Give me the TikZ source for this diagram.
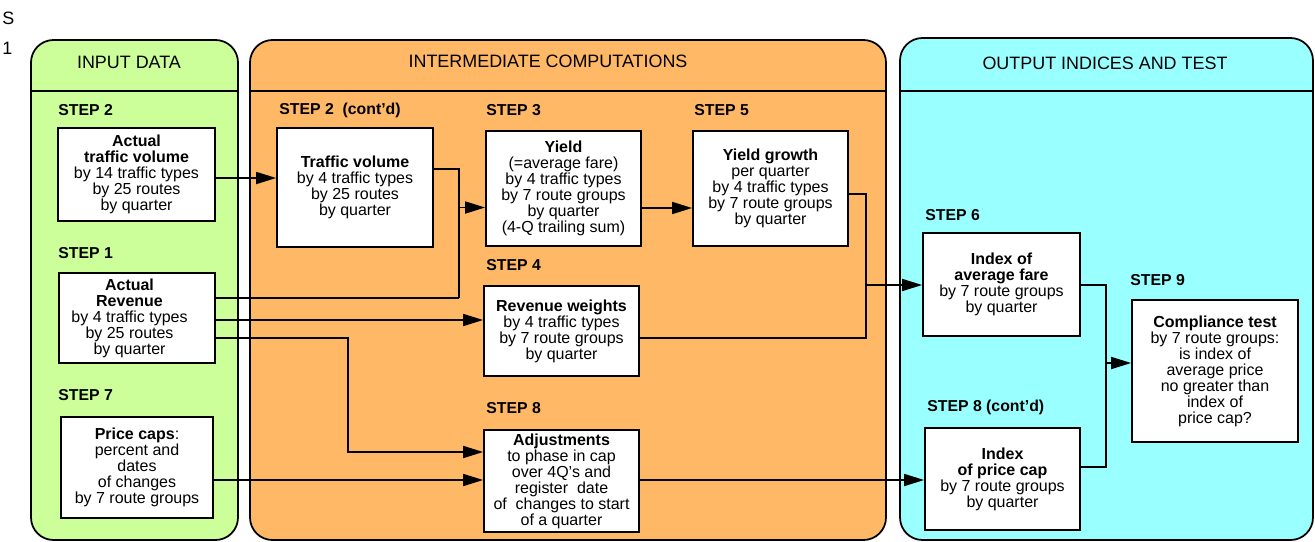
\documentclass[tikz,border=0pt]{standalone}
\usepackage{fontspec}
\setmainfont{Liberation Sans}
\usetikzlibrary{arrows.meta,calc}
\definecolor{inputgreen}{RGB}{204,255,153}
\definecolor{midorange}{RGB}{255,184,102}
\definecolor{outcyan}{RGB}{153,255,255}
\newcommand{\padr}{\rule{0.3cm}{0pt}}

\begin{document}
\begin{tikzpicture}[x=0.02cm, y=-0.02cm,
    panel/.style={draw, line width=1pt, rounded corners=0.45cm},
    head/.style={font=\fontsize{10.2}{12}\selectfont, inner sep=0pt},
    steplabel/.style={anchor=west, inner sep=0pt, font=\fontsize{9}{10}\selectfont\bfseries},
    box/.style={draw, fill=white, line width=1pt, align=center, inner sep=0pt,
        font=\fontsize{9.1}{9.1}\selectfont},
    wire/.style={line width=1pt},
    flow/.style={line width=1pt, -{Triangle[length=0.4cm, width=0.24cm]}}]
    \useasboundingbox (0,0) rectangle (1315,541);

    % panels
    \draw[panel, fill=inputgreen] (31,40) rectangle (238,540);
    \draw[panel, fill=midorange] (250,40) rectangle (886,540);
    \draw[panel, fill=outcyan] (900,38) rectangle (1313,540);
    \draw[line width=1pt] (31,91) -- (238,91);
    \draw[line width=1pt] (250,91) -- (886,91);
    \draw[line width=1pt] (900,91) -- (1313,91);
    \node[head] (hin) at (129,62) {INPUT DATA};
    \node[head] (hmid) at (548,61) {INTERMEDIATE COMPUTATIONS};
    \node[head] (hout) at (1105,63) {OUTPUT INDICES AND TEST};
    \node[head, anchor=west] (cut1) at (2,18) {S};
    \node[head, anchor=west] (cut2) at (2,48) {1};

    % step labels
    \node[steplabel] (s2) at (58,110) {STEP 2};
    \node[steplabel] (s1) at (58,253) {STEP 1};
    \node[steplabel] (s7) at (58,395) {STEP 7};
    \node[steplabel] (s2c) at (279,110) {STEP 2\ \ (cont’d)};
    \node[steplabel] (s3) at (486,110) {STEP 3};
    \node[steplabel] (s5) at (694,110) {STEP 5};
    \node[steplabel] (s4) at (486,265) {STEP 4};
    \node[steplabel] (s8) at (486,408) {STEP 8};
    \node[steplabel] (s6) at (925,215) {STEP 6};
    \node[steplabel] (s9) at (1130,280) {STEP 9};
    \node[steplabel] (s8c) at (927,407) {STEP 8 (cont’d)};

    % boxes
    \node[box, minimum width=3.14cm, minimum height=1.86cm] (atv) at (136.5,174.5)
        {\textbf{Actual}\\\textbf{traffic volume}\\by 14 traffic types\\by 25 routes\\by quarter};
    \node[box, minimum width=3.12cm, minimum height=1.8cm] (rev) at (137,318)
        {\textbf{Actual}\padr\\\textbf{Revenue}\padr\\by 4 traffic types\padr\\by 25 routes\padr\\by quarter\padr};
    \node[box, minimum width=3.04cm, minimum height=2.02cm] (cap) at (137,467.5)
        {\textbf{Price caps}:\\percent and\\dates\\of changes\\by 7 route groups};
    \node[box, minimum width=3.12cm, minimum height=2.38cm] (tv) at (355,187.5)
        {\textbf{Traffic volume}\\by 4 traffic types\\by 25 routes\\by quarter};
    \node[box, minimum width=3.1cm, minimum height=2.3cm] (yld) at (563.5,188.5)
        {\textbf{Yield}\\(=average fare)\\by 4 traffic types\\by 7 route groups\\by quarter\\(4-Q trailing sum)};
    \node[box, minimum width=3.1cm, minimum height=2.3cm] (ygr) at (770.5,188.5)
        {\textbf{Yield growth}\\per quarter\\by 4 traffic types\\by 7 route groups\\by quarter};
    \node[box, minimum width=3.1cm, minimum height=1.8cm] (rw) at (561.5,331)
        {\textbf{Revenue weights}\\by 4 traffic types\\by 7 route groups\\by quarter};
    \node[box, minimum width=3.1cm, minimum height=2.04cm] (adj) at (561.5,481)
        {\textbf{Adjustments}\\to phase in cap\\over 4Q’s and\\register\ \ date\\of\ \ changes to start\\of a quarter};
    \node[box, minimum width=3.14cm, minimum height=2.06cm] (iaf) at (1001.5,284.5)
        {\textbf{Index of}\\\textbf{average fare}\\by 7 route groups\\by quarter};
    \node[box, minimum width=3.32cm, minimum height=2.84cm] (cmp) at (1215,371)
        {\textbf{Compliance test}\\by 7 route groups:\\is index of\\average price\\no greater than\\index of\\price cap?};
    \node[box, minimum width=3.1cm, minimum height=2.04cm] (ipc) at (1002.5,479)
        {\textbf{Index}\\\textbf{of price cap}\\by 7 route groups\\by quarter};

    % junctions
    \coordinate (j1) at (459,298);
    \coordinate (j2) at (348,452);
    \coordinate (j3) at (866,285);
    \coordinate (j4) at (1106,363);

    % connectors
    \draw[flow] ($(atv.east)+(0,3.5)$) -- ($(tv.west)+(0,-9.5)$);
    \draw[wire] ($(tv.east)+(0,-18.5)$) -| (j1);
    \draw[wire] ($(rev.east)+(0,-20)$) -- (j1);
    \draw[flow] (j1) |- ($(yld.west)+(0,19)$);
    \draw[flow] ($(rev.east)+(0,2)$) -- ($(rw.west)+(0,-11)$);
    \draw[flow] ($(rev.east)+(0,20)$) -| (j2) -- ($(adj.west)+(0,-29)$);
    \draw[flow] ($(cap.east)+(0,12.5)$) -- ($(adj.west)+(0,-1)$);
    \draw[flow] ($(yld.east)+(0,19.5)$) -- ($(ygr.west)+(0,19.5)$);
    \draw[wire] ($(ygr.east)+(0,5.5)$) -| (j3);
    \draw[wire] ($(rw.east)+(0,7)$) -| (j3);
    \draw[flow] (j3) -- ($(iaf.west)+(0,0.5)$);
    \draw[flow] ($(adj.east)+(0,-1)$) -- ($(ipc.west)+(0,1)$);
    \draw[wire] ($(iaf.east)+(0,0.5)$) -| (j4);
    \draw[wire] ($(ipc.east)+(0,-12)$) -| (j4);
    \draw[flow] (j4) -- ($(cmp.west)+(0,-8)$);
\end{tikzpicture}
\end{document}
